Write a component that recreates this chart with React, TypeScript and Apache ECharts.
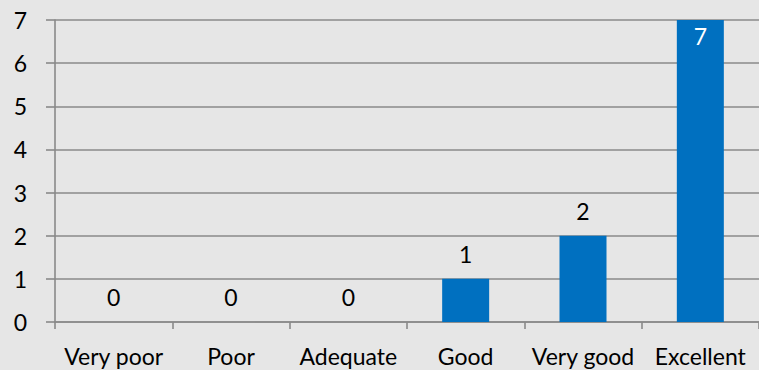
import React, { useEffect, useRef } from "react";
import * as echarts from "echarts";

// Ratings and number of responses per rating
const categories = ["Very poor", "Poor", "Adequate", "Good", "Very good", "Excellent"];
const responses = [0, 0, 0, 1, 2, 7];
const yTicks = [0, 1, 2, 3, 4, 5, 6, 7];

const FONT = "Lato, 'Noto Sans', sans-serif";
const GRID_COLOR = "#8a8a8a";
const LINE_WIDTH = 1.6;
const FONT_SIZE = 23;
const Y_MAX = yTicks[yTicks.length - 1];

export default function App() {
  const ref = useRef<HTMLDivElement>(null);

  useEffect(() => {
    if (!ref.current) return;
    const chart = echarts.init(ref.current, undefined, { renderer: "svg" });

    // a bar that reaches the top of the axis has no room above it,
    // so its label goes just inside the top of the bar
    const barData = responses.map((v) =>
      v >= Y_MAX
        ? { value: v, label: { position: "insideTop", distance: 6, color: "#fff" } }
        : v
    );

    const line = { color: GRID_COLOR, width: LINE_WIDTH };

    chart.setOption({
      animation: false,
      backgroundColor: "#e6e6e6",
      textStyle: { fontFamily: FONT },
      grid: { left: 55, right: -5, top: 20, bottom: 48 },
      xAxis: {
        type: "category",
        data: categories,
        boundaryGap: true,
        axisLine: { show: true, lineStyle: line },
        axisTick: { show: true, length: 7, alignWithLabel: false, lineStyle: line },
        axisLabel: { color: "#000", fontSize: FONT_SIZE, fontFamily: FONT, margin: 22, interval: 0 },
      },
      yAxis: {
        type: "value",
        min: yTicks[0],
        max: Y_MAX,
        interval: 1,
        axisLine: { show: true, lineStyle: line },
        axisTick: { show: true, length: 9, inside: false, lineStyle: line },
        axisLabel: { color: "#000", fontSize: FONT_SIZE, fontFamily: FONT, margin: 28, align: "right" },
        splitLine: { show: true, lineStyle: line },
      },
      series: [
        {
          type: "bar",
          data: barData,
          barWidth: 47,
          itemStyle: { color: "#0070c0" },
          label: {
            show: true,
            position: "top",
            distance: 15,
            color: "#000",
            fontSize: FONT_SIZE,
            lineHeight: 20,
            fontFamily: FONT,
          },
        },
      ],
    });
    return () => chart.dispose();
  }, []);

  return (
    <div
      ref={ref}
      style={{ position: "fixed", left: 0, top: 0, width: 759, height: 370 }}
    />
  );
}
